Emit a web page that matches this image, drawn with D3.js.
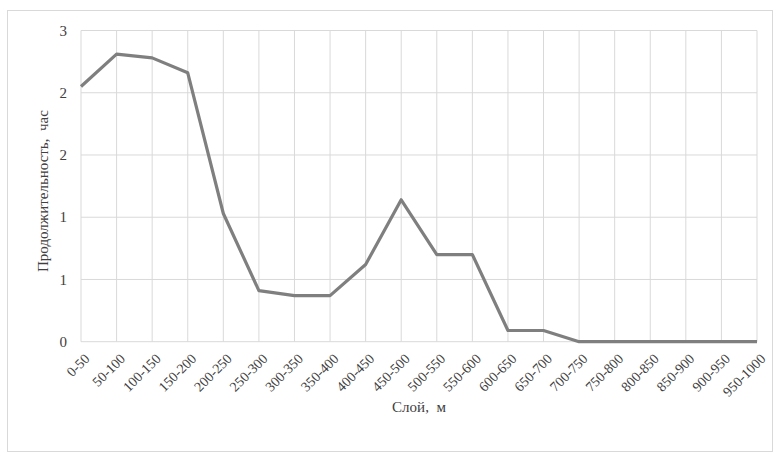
<!DOCTYPE html>
<html><head><meta charset="utf-8">
<script src="https://cdn.jsdelivr.net/npm/d3@7"></script>
<style>body{margin:0;background:#fff}</style>
</head><body>
<svg id="c" width="779" height="456"></svg>
<script>
const categories = ["0-50","50-100","100-150","150-200","200-250","250-300","300-350","350-400","400-450","450-500","500-550","550-600","600-650","650-700","700-750","750-800","800-850","850-900","900-950","950-1000"];
const values = [2.05,2.31,2.28,2.16,1.03,0.41,0.37,0.37,0.62,1.14,0.70,0.70,0.09,0.09,0,0,0,0,0,0];
const yTicks = [0,0.5,1,1.5,2,2.5];
const yTickLabels = ["0","1","1","2","2","3"];
const yTitle = "Продолжительность,  час";
const xTitle = "Слой,  м";

const FONT = "'Times New Roman', 'Liberation Serif', Tinos, 'DejaVu Serif', serif";
const svg = d3.select("#c");
svg.append("rect").attr("x",7.5).attr("y",10.5).attr("width",765).attr("height",441)
  .attr("fill","#fff").attr("stroke","#d9d9d9");

const L=81, R=757, T=30.5, B=341.7;
const x = d3.scalePoint().domain(categories).range([L,R]);
const y = d3.scaleLinear().domain([0,2.5]).range([B,T]);

const g = svg.append("g");
g.selectAll(".vg").data(categories).join("line")
  .attr("x1",d=>x(d)).attr("x2",d=>x(d)).attr("y1",T).attr("y2",B)
  .attr("stroke","#d9d9d9").attr("stroke-width",1);
g.selectAll(".hg").data(yTicks).join("line")
  .attr("x1",L).attr("x2",R).attr("y1",d=>y(d)).attr("y2",d=>y(d))
  .attr("stroke","#d9d9d9").attr("stroke-width",1);

g.selectAll(".yl").data(yTicks).join("text")
  .attr("x",L-14).attr("y",d=>y(d)).attr("dy","0.35em")
  .attr("text-anchor","end").style("font-family",FONT).style("font-size","15px").attr("fill","#404040")
  .text((d,i)=>yTickLabels[i]);

g.selectAll(".xl").data(categories).join("text")
  .attr("transform",d=>`translate(${x(d)+6},${356}) rotate(-45)`)
  .attr("text-anchor","end").attr("dy","0.35em")
  .style("font-family",FONT).style("font-size","14px").attr("fill","#404040")
  .text(d=>d);

const line = d3.line().x((d,i)=>x(categories[i])).y(d=>y(d));
g.append("path").datum(values).attr("d",line)
  .attr("fill","none").attr("stroke","#7f7f7f").attr("stroke-width",3.2)
  .attr("stroke-linejoin","round");

svg.append("text").attr("transform",`translate(48,${(T+B)/2+5}) rotate(-90)`)
  .attr("text-anchor","middle").style("font-family",FONT).style("font-size","15px").attr("fill","#404040")
  .style("white-space","pre").text(yTitle);
svg.append("text").attr("x",(L+R)/2).attr("y",412)
  .attr("text-anchor","middle").style("font-family",FONT).style("font-size","15px").attr("fill","#404040")
  .style("white-space","pre").text(xTitle);
</script>
</body></html>
